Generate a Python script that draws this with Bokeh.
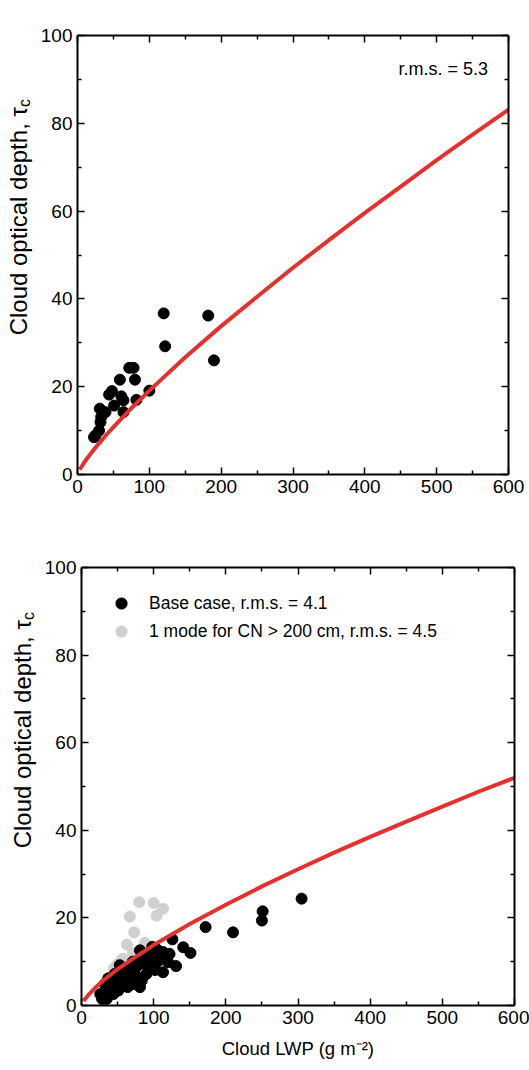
from math import pi
from bokeh.plotting import figure
from bokeh.models import (LinearAxis, Label, Legend, LegendItem, Range1d,
                          FixedTicker)
from bokeh.layouts import column, row
from bokeh.embed import file_html
from bokeh.resources import INLINE

FONT = "Liberation Sans"
RED = "#e3312e"
GREY = "#d0d0d0"

# ---------------- data: ARM SGP site ----------------
sgp_lwp = [23, 25, 30, 32, 33, 31, 39, 44, 48, 51, 59, 61, 64, 64, 72, 78,
           80, 82, 100, 120, 122, 182, 190]
sgp_tau = [8.5, 8.9, 10.0, 11.9, 13.1, 15.0, 14.2, 18.2, 19.0, 15.7, 21.6,
           17.8, 16.9, 14.2, 24.3, 24.3, 21.6, 17.0, 19.1, 36.7, 29.2, 36.2, 26.0]
sgp_fit_lwp = [3, 5, 10, 20, 30, 40, 50, 75, 100, 150, 200, 250, 300, 350,
               400, 450, 500, 550, 600]
sgp_fit_tau = [1.1, 1.6, 2.9, 5.1, 7.1, 9.0, 10.8, 15.1, 19.1, 26.7, 33.8,
               40.5, 47.1, 53.4, 59.6, 65.6, 71.6, 77.4, 83.1]
sgp_rms = "r.m.s. = 5.3"

# ---------------- data: ARM NSA site ----------------
nsa_base_lwp = [251, 250, 305, 172, 210, 126, 141, 151, 113, 104, 99.5, 115,
                106, 81, 131, 120, 113, 102, 97, 88, 90, 83.5, 81, 78, 71, 69,
                62, 66, 57, 53, 46, 48, 42, 39, 32, 35, 44, 28.5, 35, 26, 57,
                64, 71, 76, 71, 80, 98, 109, 122, 88, 53, 37, 46, 51]
nsa_base_tau = [21.5, 19.4, 24.4, 17.9, 16.7, 15.1, 13.3, 12.0, 12.2, 12.9,
                11.8, 11.0, 10.1, 12.6, 9.0, 9.9, 7.6, 8.1, 9.7, 9.4, 7.2, 5.7,
                4.2, 6.5, 7.6, 5.7, 6.5, 8.8, 8.1, 6.9, 7.2, 5.7, 5.7, 4.2, 4.9,
                3.4, 2.6, 1.5, 1.5, 2.6, 5.7, 4.2, 4.9, 8.8, 10.0, 10.3, 13.4,
                11.8, 11.8, 11.4, 9.2, 6.2, 4.5, 3.4]
nsa_mode_lwp = [80, 100, 113, 104, 67, 73, 63, 88, 71, 57, 50, 84, 45]
nsa_mode_tau = [23.6, 23.4, 22.1, 20.5, 20.3, 16.7, 13.9, 14.3, 11.9, 10.7,
                9.5, 10.7, 8.5]
nsa_fit_lwp = [3, 5, 10, 20, 30, 40, 50, 75, 100, 150, 200, 250, 300, 350,
               400, 450, 500, 550, 600]
nsa_fit_tau = [1.0, 1.5, 2.5, 4.2, 5.7, 7.0, 8.3, 11.1, 13.8, 18.6, 23.0,
               27.2, 31.1, 34.9, 38.5, 42.0, 45.4, 48.8, 52.0]
nsa_labels = ["Base case, r.m.s. = 4.1", "1 mode for CN > 200 cm, r.m.s. = 4.5"]

titles = ["ARM SGP site", "ARM NSA site"]
x_major = [0, 100, 200, 300, 400, 500, 600]
x_minor = [50, 150, 250, 350, 450, 550]
y_major = [0, 20, 40, 60, 80, 100]
y_minor = [10, 30, 50, 70, 90]
ylabel = "Cloud optical depth, τ"
ylabel_sub = "c"
xlabel = "Cloud LWP (g m⁻²)"

LW1 = 36  # width of the strip holding the vertical axis title (top)
LW2 = 40  # width of the strip holding the vertical axis title (bottom)


def make_fig(width, height, bl, br, bt, bb):
    p = figure(width=width, height=height, output_backend="svg",
               toolbar_location=None, x_range=Range1d(0, 600),
               y_range=Range1d(0, 100), min_border_left=bl,
               min_border_right=br, min_border_top=bt, min_border_bottom=bb)
    p.grid.visible = False
    p.outline_line_color = None
    p.background_fill_color = "white"
    p.border_fill_color = "white"
    p.add_layout(LinearAxis(), "above")
    p.add_layout(LinearAxis(), "right")
    for ax in p.xaxis:
        ax.ticker = FixedTicker(ticks=x_major, minor_ticks=x_minor)
    for ax in p.yaxis:
        ax.ticker = FixedTicker(ticks=y_major, minor_ticks=y_minor)
    for ax in p.axis:
        ax.axis_line_width = 2
        ax.axis_line_color = "black"
        ax.major_tick_in = 7
        ax.major_tick_out = 0
        ax.minor_tick_in = 4
        ax.minor_tick_out = 0
        ax.major_tick_line_width = 1.5
        ax.minor_tick_line_width = 1.5
        ax.major_label_text_font = FONT
        ax.major_label_text_font_size = "19px"
        ax.major_label_text_color = "black"
        ax.major_label_standoff = 5
    for ax in p.above + p.right:
        ax.major_label_text_font_size = "1px"
        ax.major_label_text_color = None
        ax.major_label_standoff = 0
    return p


def make_label_strip(lw, height, bt, bb, xc, ytop):
    s = figure(width=lw, height=height, output_backend="svg",
               toolbar_location=None, x_range=Range1d(0, lw),
               y_range=Range1d(0, 100), min_border_left=0, min_border_right=0,
               min_border_top=bt, min_border_bottom=bb,
               x_axis_type=None, y_axis_type=None)
    s.grid.visible = False
    s.outline_line_color = None
    s.add_layout(Label(x=xc, y=ytop, text=ylabel, angle=pi / 2,
                       text_align="right", text_baseline="middle",
                       text_font=FONT, text_font_size="24px",
                       text_color="black"))
    s.add_layout(Label(x=xc, y=ytop, x_offset=6, text=ylabel_sub,
                       angle=pi / 2, text_align="left",
                       text_baseline="middle", text_font=FONT,
                       text_font_size="16px", text_color="black"))
    return s


def add_title(p, text, off):
    p.add_layout(Label(x=300, y=100, y_offset=off, text=text,
                       text_align="center", text_baseline="middle",
                       text_font=FONT, text_font_size="18px",
                       text_color="black"))


# ---------------- top figure ----------------
p1 = make_fig(529 - LW1, 538, 77 - LW1, 21, 35, 64)
p1.scatter(sgp_lwp, sgp_tau, size=11, color="black")
p1.line(sgp_fit_lwp, sgp_fit_tau, line_color=RED, line_width=4)
add_title(p1, titles[0], 12)
p1.add_layout(Label(x=447, y=92.3, text=sgp_rms, text_align="left",
                    text_baseline="middle", text_font=FONT,
                    text_font_size="18px", text_color="black"))
s1 = make_label_strip(LW1, 538, 35, 64, 18, 83.7)

# ---------------- bottom figure ----------------
p2 = make_fig(529 - LW2, 530, 81 - LW2, 15, 29, 63)
r_mode = p2.scatter(nsa_mode_lwp, nsa_mode_tau, size=11, color=GREY)
r_base = p2.scatter(nsa_base_lwp, nsa_base_tau, size=11, color="black")
p2.line(nsa_fit_lwp, nsa_fit_tau, line_color=RED, line_width=4)
add_title(p2, titles[1], 11)
for ax in p2.below:
    ax.axis_label = xlabel
    ax.axis_label_text_font = FONT
    ax.axis_label_text_font_size = "18.5px"
    ax.axis_label_text_font_style = "normal"
    ax.axis_label_text_color = "black"
    ax.axis_label_standoff = 11

legend = Legend(items=[LegendItem(label=nsa_labels[0], renderers=[r_base]),
                       LegendItem(label=nsa_labels[1], renderers=[r_mode])],
                location=(26, 360), padding=0, spacing=0, margin=0,
                glyph_width=28, glyph_height=28, label_height=28,
                label_standoff=14, label_text_font=FONT,
                label_text_font_size="17.5px", label_text_color="black",
                background_fill_alpha=0, border_line_alpha=0)
p2.add_layout(legend)
s2 = make_label_strip(LW2, 530, 29, 63, 22, 88.0)

page = column(row(s1, p1, spacing=0), row(s2, p2, spacing=0), spacing=0)
open("out.html", "w").write(file_html(page, INLINE))
